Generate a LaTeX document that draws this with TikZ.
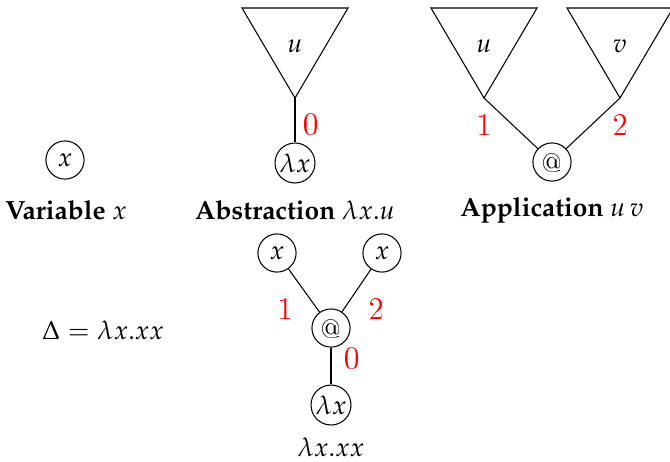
\documentclass[tikz,border=0pt]{standalone}
\usepackage[T1]{fontenc}
\usepackage{mathpazo}
\renewcommand{\sfdefault}{lmss}
\newcommand{\atsign}{{\fontfamily{lmr}\selectfont @}}
\begin{document}
\begin{tikzpicture}[x=0.38pt,y=-0.38pt,
  vert/.style={circle,draw,minimum size=14.5pt,inner sep=0.5pt},
  num/.style={text=red,font=\sffamily\fontsize{12}{14}\selectfont},
  tri/.style={draw,line join=miter}]
\useasboundingbox (0,0) rectangle (670,461);
% Variable
\node[vert] (v1) at (65,160) {$x$};
\node (l1) at (66,210) {\textbf{Variable} $x$};
% Abstraction
\coordinate (a1) at (295,98);
\draw[tri] (242,8) -- (348,8) -- (a1) -- cycle;
\node (u1) at (295,46) {$u$};
\node[vert] (lam1) at (295,163) {$\lambda x$};
\draw (a1) -- (lam1);
\node[num] (n0a) at (311,124) {0};
\node (l2) at (295,210) {\textbf{Abstraction} $\lambda x.u$};
% Application
\coordinate (a2) at (484,98);
\coordinate (a3) at (620,98);
\draw[tri] (431,8) -- (537,8) -- (a2) -- cycle;
\draw[tri] (567,8) -- (673,8) -- (a3) -- cycle;
\node (u2) at (484,46) {$u$};
\node (v2) at (620,46) {$v$};
\node[vert] (app1) at (552,162) {\atsign};
\draw (a2) -- (app1);
\draw (a3) -- (app1);
\node[num] (n1a) at (484,125) {1};
\node[num] (n2a) at (620,125) {2};
\node (l3) at (552,210) {\textbf{Application} $u\,v$};
% Delta
\node (delta) at (103,330) {$\Delta = \lambda x.xx$};
\node[vert] (x1) at (277,253) {$x$};
\node[vert] (x2) at (382,253) {$x$};
\node[vert] (app2) at (331,328) {\atsign};
\node[vert] (lam2) at (331,405) {$\lambda x$};
\draw (x1) -- (app2);
\draw (x2) -- (app2);
\draw (app2) -- (lam2);
\node[num] (n1b) at (285,309) {1};
\node[num] (n2b) at (376,309) {2};
\node[num] (n0b) at (352,358) {0};
\node[inner sep=0.5pt] (l4) at (331,447) {$\lambda x.xx$};
\end{tikzpicture}
\end{document}
